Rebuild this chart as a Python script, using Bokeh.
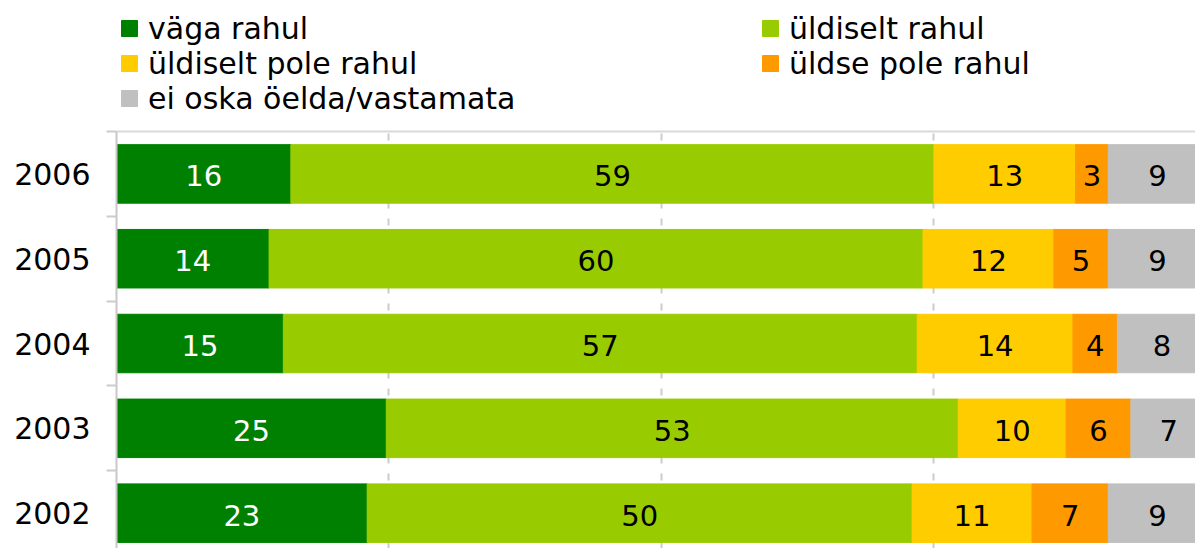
import numpy as np
from bokeh.plotting import figure
from bokeh.layouts import column
from bokeh.models import ColumnDataSource, Range1d, FixedTicker, LinearAxis, Legend, LegendItem
from bokeh.core.properties import value
from bokeh.embed import file_html
from bokeh.resources import INLINE

# ---- data ----
years = ["2006", "2005", "2004", "2003", "2002"]
vaga_rahul = [16, 14, 15, 25, 23]
uldiselt_rahul = [59, 60, 57, 53, 50]
uldiselt_pole_rahul = [13, 12, 14, 10, 11]
uldse_pole_rahul = [3, 5, 4, 6, 7]
ei_oska = [9, 9, 8, 7, 9]

series_names = ["väga rahul", "üldiselt rahul", "üldiselt pole rahul",
                "üldse pole rahul", "ei oska öelda/vastamata"]
series_values = [vaga_rahul, uldiselt_rahul, uldiselt_pole_rahul, uldse_pole_rahul, ei_oska]
colors = ["#008000", "#99CC00", "#FFCC00", "#FF9900", "#C0C0C0"]
label_colors = ["#FFFFFF", "#000000", "#000000", "#000000", "#000000"]
grid_ticks = [25, 50, 75]

FONT = "DejaVu Sans"
W = 1195
LEG_H = 120
CHART_H = 548 - LEG_H

# ---- derived (100% stacked) ----
raw = np.array(series_values, dtype=float)
pct = raw / raw.sum(axis=0) * 100.0
n = len(years)
ypos = [n - 1 - i for i in range(n)]
keys = [f"s{k}" for k in range(len(series_names))]
data = {"y": ypos}
for k, key in enumerate(keys):
    data[key] = pct[k].tolist()
source = ColumnDataSource(data)

# ---- chart ----
p = figure(width=W, height=CHART_H, output_backend="svg", toolbar_location=None,
           x_range=Range1d(0, 99.0), y_range=Range1d(-0.417, n - 0.5),
           x_axis_location=None,
           min_border_left=116, min_border_right=0, min_border_top=11, min_border_bottom=0,
           outline_line_color=None)

renderers = p.hbar_stack(keys, y="y", height=0.69, color=colors, source=source)

left = np.zeros(n)
for k in range(len(series_names)):
    centers = left + pct[k] / 2.0
    p.text(x=centers.tolist(), y=ypos, text=[str(v) for v in series_values[k]],
           text_align="center", text_baseline="middle", y_offset=2,
           text_font=value(FONT), text_font_size="29px", text_color=label_colors[k])
    left = left + pct[k]

p.ygrid.visible = False
p.xgrid.ticker = FixedTicker(ticks=grid_ticks)
p.xgrid.grid_line_color = "#cccccc"
p.xgrid.grid_line_dash = "7 10"
p.xgrid.grid_line_width = 2

bounds = [y + 0.5 for y in ypos] + [min(ypos) - 0.5]
yax = p.yaxis[0]
yax.ticker = FixedTicker(ticks=ypos, minor_ticks=bounds)
yax.major_label_overrides = {y: yr for y, yr in zip(ypos, years)}
yax.major_tick_line_color = None
yax.major_tick_out = 0
yax.major_tick_in = 0
yax.minor_tick_out = 10
yax.minor_tick_in = 0
yax.minor_tick_line_color = "#cccccc"
yax.minor_tick_line_width = 2
yax.axis_line_color = "#c8c8c8"
yax.axis_line_width = 2
yax.major_label_text_font = FONT
yax.major_label_text_font_size = "30px"
yax.major_label_text_color = "#000000"
yax.major_label_standoff = 16

top = LinearAxis(ticker=FixedTicker(ticks=[]), axis_line_color="#d9d9d9", axis_line_width=2,
                 major_tick_line_color=None, minor_tick_line_color=None)
p.add_layout(top, "above")

# ---- legend strip (proxy bars share the data but sit outside this strip's ranges) ----
lf = figure(width=W, height=LEG_H, output_backend="svg", toolbar_location=None,
            x_axis_location=None, y_axis_location=None, min_border=0,
            outline_line_color=None, x_range=Range1d(-200, -199), y_range=Range1d(-200, -199))
lf.grid.visible = False
leg_renderers = [lf.hbar(y="y", right=key, height=0.5, color=c, source=source)
                 for key, c in zip(keys, colors)]
all_items = [LegendItem(label=name, renderers=[r]) for name, r in zip(series_names, leg_renderers)]

ROW_H = 35
row_centers = [28, 63, 98]          # legend row centres, px from the top of the strip
for r, yc in enumerate(row_centers):
    row_items = all_items[2 * r: 2 * r + 2]
    leg = Legend(items=row_items, location=(3, LEG_H - (yc + ROW_H / 2)),
                 orientation="horizontal", glyph_width=20, glyph_height=20,
                 label_standoff=9, label_width=612, label_height=ROW_H,
                 spacing=0, padding=0, margin=0,
                 label_text_font=FONT, label_text_font_size="30px", label_text_color="#000000",
                 background_fill_alpha=0, border_line_alpha=0)
    lf.add_layout(leg, "center")

layout = column(lf, p, spacing=0)
open("out.html", "w").write(file_html(layout, INLINE))
